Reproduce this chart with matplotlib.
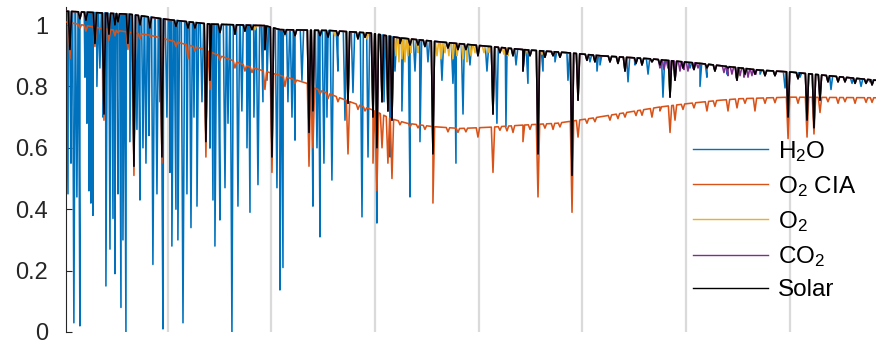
import matplotlib
matplotlib.use("Agg")
import matplotlib.pyplot as plt
import numpy as np

plt.rcParams['font.family'] = ['Liberation Sans', 'DejaVu Sans']
plt.rcParams['mathtext.fontset'] = 'custom'
plt.rcParams['mathtext.rm'] = 'Liberation Sans'
plt.rcParams['mathtext.it'] = 'Liberation Sans:italic'

# solar continuum (black), also the top of the other gas spectra
solar_cx = [1.9, 63.6, 102.2, 140.8, 193.8, 208.3, 256.5, 295.1, 324.0, 362.6,
            410.8, 442.6, 485.0, 516.9, 565.1, 613.3, 671.2, 700.1, 783.0]
solar_cy = [1.045, 1.035, 1.017, 1.003, 0.998, 0.985, 0.982, 0.974, 0.958, 0.945,
            0.93, 0.92, 0.91, 0.90, 0.89, 0.875, 0.853, 0.847, 0.82]

# O2 collision induced absorption continuum (orange)
cia_cx = [1.9, 34.7, 82.9, 131.1, 179.4, 217.9, 234.3, 242.0, 275.8, 298.0,
          314.4, 330.8, 355.8, 381.9, 410.8, 442.6, 475.4, 508.2, 545.8, 574.7,
          603.7, 632.6, 651.9, 700.1, 783.0]
cia_cy = [1.01, 0.99, 0.967, 0.925, 0.863, 0.827, 0.81, 0.794, 0.75, 0.723,
          0.696, 0.68, 0.669, 0.663, 0.667, 0.674, 0.68, 0.696, 0.717, 0.733,
          0.745, 0.755, 0.76, 0.765, 0.763]

# solar lines: position, minimum on solar curve, minimum on O2 CIA curve
sun_x = [5.8, 15.4, 21.2, 29.9, 38.6, 43.4, 49.2, 52.1, 61.7, 67.5, 73.3, 82.9,
         94.5, 108.0, 119.6, 126.3, 136.9, 140.8, 150.4, 164.9, 174.5, 181.3,
         193.8, 200.6, 213.1, 222.8, 236.3, 240.1, 246.9, 254.6, 264.2, 273.9,
         283.5, 290.3, 298.0, 301.8, 306.7, 312.4, 316.3, 324.0, 333.7, 341.4,
         348.1, 355.8, 370.3, 379.9, 387.6, 399.2, 413.7, 420.4, 427.2, 433.0,
         442.6, 449.4, 457.1, 463.8, 471.6, 478.3, 489.9, 495.7, 504.3, 512.0,
         526.5, 534.2, 541.0, 551.6, 557.4, 567.0, 574.7, 584.4, 589.2, 596.9,
         607.5, 620.0, 627.7, 640.3, 649.0, 656.7, 666.3, 676.0, 685.6, 698.2,
         707.8, 716.5, 723.2, 729.0, 736.7, 746.4, 753.1, 762.8, 773.4, 779.2]
sun_y = [0.92, 1.02, 1.015, 0.94, 0.71, 0.97, 1.0, 1.01, 0.94, 0.54, 1.0, 0.99,
         0.57, 0.995, 0.99, 0.99, 0.62, 0.82, 0.975, 0.97, 0.98, 0.985,
         0.92, 0.57, 0.97, 0.965, 0.65, 0.72, 0.965, 0.96, 0.965, 0.745,
         0.955, 0.96, 0.70, 0.60, 0.75, 0.72, 0.69, 0.94, 0.935, 0.935,
         0.93, 0.58, 0.925, 0.92, 0.92, 0.90, 0.71, 0.91, 0.905, 0.90,
         0.85, 0.90, 0.58, 0.895, 0.90, 0.895, 0.51, 0.755, 0.885, 0.88,
         0.88, 0.875, 0.85, 0.875, 0.87, 0.88, 0.87, 0.765, 0.82, 0.86,
         0.855, 0.86, 0.85, 0.86, 0.82, 0.84, 0.84, 0.835, 0.835, 0.70,
         0.825, 0.69, 0.665, 0.755, 0.815, 0.815, 0.815, 0.81, 0.81, 0.805]
sun_cia_y = [0.89, 0.99, 0.98, 0.93, 0.69, 0.95, 0.965, 0.975, 0.92, 0.51, 0.955, 0.96,
             0.55, 0.93, 0.89, 0.915, 0.57, 0.79, 0.885, 0.86, 0.85, 0.845,
             0.79, 0.52, 0.80, 0.81, 0.54, 0.60, 0.775, 0.76, 0.75, 0.58,
             0.725, 0.72, 0.55, 0.46, 0.60, 0.55, 0.50, 0.675, 0.668, 0.665,
             0.66, 0.42, 0.652, 0.65, 0.652, 0.635, 0.52, 0.657, 0.655, 0.65,
             0.62, 0.66, 0.44, 0.664, 0.66, 0.668, 0.39, 0.635, 0.68, 0.685,
             0.69, 0.695, 0.70, 0.705, 0.706, 0.70, 0.72, 0.65, 0.69, 0.725,
             0.73, 0.72, 0.735, 0.72, 0.73, 0.745, 0.72, 0.745, 0.747, 0.63,
             0.745, 0.635, 0.645, 0.715, 0.75, 0.745, 0.75, 0.745, 0.748, 0.748]

# water lines
h2o_x = [3.9, 6.8, 9.6, 12.5, 15.4, 20.3, 22.2, 24.1, 26.0, 28.0, 31.8, 34.7,
         37.6, 40.5, 44.4, 47.3, 49.2, 52.1, 55.0, 56.9, 59.8, 63.6, 70.4, 73.3,
         76.2, 79.1, 82.0, 85.8, 89.7, 92.6, 95.5, 99.3, 102.2, 104.1, 108.0,
         109.9, 114.8, 118.6, 122.5, 125.4, 128.3, 133.1, 140.8, 143.7, 145.6,
         150.4, 155.3, 158.2, 162.0, 167.8, 171.6, 176.5, 179.4, 183.2, 187.1,
         191.9, 195.8, 205.4, 208.3, 211.2, 216.0, 219.9, 222.8, 229.5, 240.1,
         244.0, 246.9, 250.7, 253.6, 258.4, 264.2, 271.0, 278.7, 287.4, 293.2,
         301.8, 308.6, 314.4, 319.2, 325.9, 333.7, 338.5, 343.3, 351.0, 364.5,
         375.1, 378.0, 384.8, 391.5, 407.9, 417.5, 426.2, 435.9, 447.4, 461.9,
         473.5, 486.0, 495.7, 507.2, 514.0, 516.9, 543.9, 550.6, 563.2, 577.6,
         603.7, 613.3, 620.0, 639.3, 671.2, 695.3, 709.7, 739.6, 753.1, 759.9,
         768.6, 777.2]
h2o_y = [0.45, 0.55, 0.03, 0.44, 0.02, 0.83, 0.68, 0.46, 0.42, 0.38, 0.80, 0.86,
         0.70, 0.15, 0.27, 0.37, 0.19, 0.45, 0.08, 0.30, 0.00, 0.62, 0.66, 0.43,
         0.60, 0.55, 0.64, 0.22, 0.45, 0.75, 0.01, 0.70, 0.52, 0.28, 0.40,
         0.30, 0.03, 0.45, 0.34, 0.70, 0.41, 0.75, 0.60, 0.43, 0.28,
         0.365, 0.47, 0.68, 0.00, 0.41, 0.72, 0.60, 0.39, 0.70, 0.48,
         0.75, 0.82, 0.47, 0.137, 0.21, 0.75, 0.70, 0.625, 0.82, 0.41,
         0.60, 0.31, 0.55, 0.70, 0.495, 0.85, 0.69, 0.78, 0.375, 0.57,
         0.355, 0.75, 0.57, 0.85, 0.72, 0.44, 0.85, 0.62, 0.88, 0.82,
         0.81, 0.55, 0.71, 0.87, 0.85, 0.68, 0.67, 0.87, 0.81, 0.85,
         0.88, 0.82, 0.77, 0.88, 0.85, 0.87, 0.815, 0.87, 0.84, 0.765,
         0.86, 0.80, 0.83, 0.84, 0.84, 0.795, 0.83, 0.79, 0.82, 0.81,
         0.80, 0.815]

# oxygen lines
o2_x = [184.2, 213.1, 246.9, 261.3, 292.2, 320.2, 323.0, 325.9, 328.8, 331.7,
        334.6, 341.4, 359.7, 363.5, 367.4, 371.2, 375.1, 378.9, 384.8, 388.6,
        392.5, 396.4, 405.0, 409.9, 424.3, 428.2, 444.5, 460.9]
o2_y = [0.985, 0.965, 0.965, 0.965, 0.955, 0.90, 0.88, 0.89, 0.88, 0.90,
        0.91, 0.91, 0.90, 0.89, 0.91, 0.90, 0.89, 0.90, 0.89, 0.88,
        0.90, 0.91, 0.91, 0.91, 0.905, 0.90, 0.90, 0.905]

# carbon dioxide lines
co2_x = [574.7, 578.6, 582.4, 590.2, 594.0, 597.9, 601.7, 606.5, 611.4,
         636.4, 640.3, 644.1, 648.0, 651.9, 655.7, 659.6, 663.4, 667.3]
co2_y = [0.86, 0.855, 0.86, 0.85, 0.85, 0.855, 0.85, 0.86, 0.86,
         0.845, 0.835, 0.84, 0.83, 0.835, 0.83, 0.83, 0.835, 0.84]

labels = ['H$_2$O', 'O$_2$ CIA', 'O$_2$', 'CO$_2$', 'Solar']
colors = ['#0072BD', '#D95319', '#EDB120', '#7E2F8E', '#000000']


def spectrum(cx, cy, lx, ly, w=1.6):
    # continuum knots plus a narrow V for every absorption line
    lx = np.asarray(lx, float)
    xs = [np.asarray(cx, float), lx - w, lx + w, lx]
    ys = [np.asarray(cy, float), np.interp(lx - w, cx, cy),
          np.interp(lx + w, cx, cy), np.asarray(ly, float)]
    x = np.concatenate(xs)
    y = np.concatenate(ys)
    order = np.argsort(x, kind='stable')
    return x[order], y[order]


series = [
    spectrum(solar_cx, solar_cy, h2o_x + sun_x, h2o_y + sun_y),
    spectrum(cia_cx, cia_cy, sun_x, sun_cia_y),
    spectrum(solar_cx, solar_cy, o2_x + sun_x, o2_y + sun_y),
    spectrum(solar_cx, solar_cy, co2_x + sun_x, co2_y + sun_y),
    spectrum(solar_cx, solar_cy, sun_x, sun_y),
]

fig = plt.figure(figsize=(8.83, 3.43), dpi=100)
ax = fig.add_axes([66 / 883, 11 / 343, 810 / 883, 325.4 / 343])

handles = []
for (x, y), c, lab, z in zip(series, colors, labels, range(5)):
    h, = ax.plot(x, y, color=c, lw=1.15, label=lab, zorder=2 + z)
    handles.append(h)

ax.set_xlim(2, 783)
ax.set_ylim(0, 1.06)
ax.set_xticks(np.arange(100, 800, 100))
ax.set_yticks([0, 0.2, 0.4, 0.6, 0.8, 1])
ax.set_yticklabels(['0', '0.2', '0.4', '0.6', '0.8', '1'])
ax.grid(axis='x', color='#dadada', lw=1.6, zorder=0)
ax.tick_params(axis='x', length=0, labelbottom=False)
ax.tick_params(axis='y', direction='in', length=4, width=0.8, colors='#262626',
               labelsize=17, pad=13)
for s in ['top', 'right', 'bottom']:
    ax.spines[s].set_visible(False)
ax.spines['left'].set_color('#262626')
ax.spines['left'].set_linewidth(0.8)

leg = ax.legend(handles=handles, loc='upper left', bbox_to_anchor=(0.774, 0.594),
                frameon=False, fontsize=17.5, handlelength=3.1, handletextpad=0.4,
                labelspacing=0.42, borderpad=0, borderaxespad=0)
for ln in leg.get_lines():
    ln.set_linewidth(1.0)

fig.savefig('out.png', dpi=100)
